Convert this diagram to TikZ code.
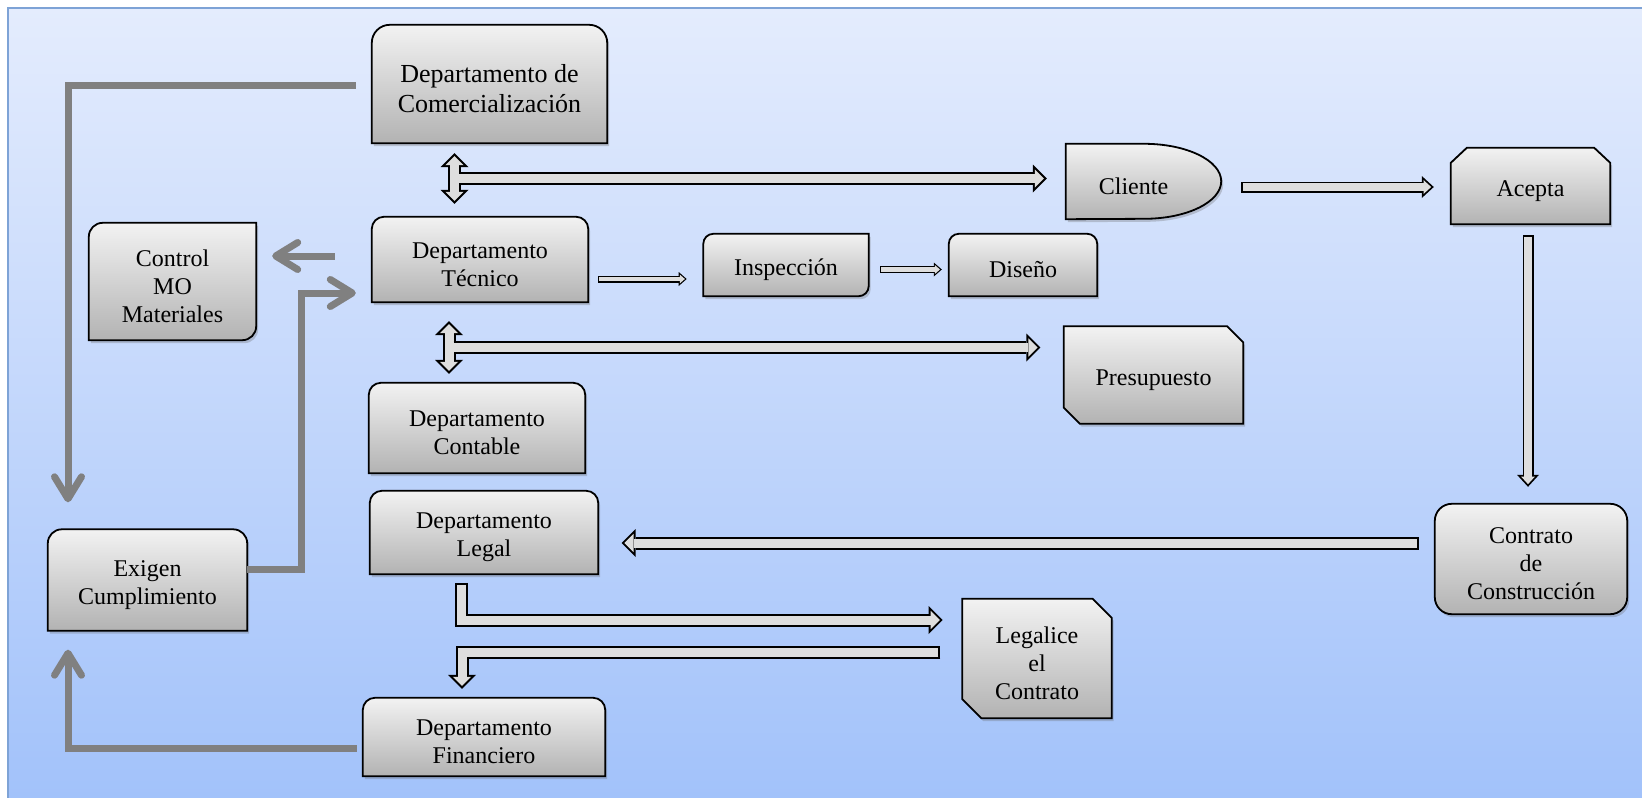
\documentclass[tikz,border=0pt]{standalone}
\usepackage{fontspec}
\setmainfont{Liberation Serif}
\usepackage{tikz}
\usetikzlibrary{arrows.meta, calc, shadows, backgrounds}

\definecolor{panetop}{RGB}{228,236,253}
\definecolor{panebot}{RGB}{162,194,250}
\definecolor{paneline}{RGB}{126,163,214}
\definecolor{flowgray}{RGB}{128,128,128}

\begin{document}
\begin{tikzpicture}[
    x=1pt, y=-1pt,
    every node/.style={font=\fontsize{24}{28}\selectfont},
    dept/.style={rectangle, inner sep=0pt, align=center},
    boxpaint/.style={draw=black, line width=1.8pt, top color=black!5, bottom color=black!30,
        drop shadow={opacity=0.3, shadow xshift=2pt, shadow yshift=-3pt, fill=black!60}},
    bigarrow/.style={draw=black, line width=13pt, -{Triangle[length=14pt, width=28pt, line width=0pt]},
        postaction={draw=black!13, line width=9pt, shorten <=2pt, shorten >=2.83pt,
        -{Triangle[length=9.2pt, width=18.4pt, line width=0pt]}}},
    branch/.style={draw=black, line width=13pt, -{Triangle[length=14pt, width=28pt, line width=0pt]},
        postaction={draw=black!13, line width=9pt, shorten >=2.83pt,
        -{Triangle[length=9.2pt, width=18.4pt, line width=0pt]}}},
    bidir/.style={draw=black, line width=13pt,
        {Triangle[length=14pt, width=28pt, line width=0pt]}-{Triangle[length=14pt, width=28pt, line width=0pt]},
        postaction={draw=black!13, line width=9pt, shorten <=2.83pt, shorten >=2.83pt,
        {Triangle[length=9.2pt, width=18.4pt, line width=0pt]}-{Triangle[length=9.2pt, width=18.4pt, line width=0pt]}}},
    midarrow/.style={draw=black, line width=11pt, -{Triangle[length=12pt, width=22pt, line width=0pt]},
        postaction={draw=black!13, line width=7.4pt, shorten <=1.8pt, shorten >=2.66pt,
        -{Triangle[length=7.5pt, width=13.7pt, line width=0pt]}}},
    thinarrow/.style={draw=black, line width=7pt, -{Triangle[length=8pt, width=14pt, line width=0pt]},
        postaction={draw=black!13, line width=4.6pt, shorten <=1.2pt, shorten >=1.82pt,
        -{Triangle[length=5pt, width=8.7pt, line width=0pt]}}},
    flow/.style={draw=flowgray, line width=7pt, -{Straight Barb[length=22pt, width=27pt, round]}}
]
\useasboundingbox (0,0) rectangle (1642,798);

% Background panel
\begin{scope}[on background layer]
    \shade[top color=panetop, bottom color=panebot] (8,8) rectangle (1642,798);
    \draw[paneline, line width=2pt] (8,798) -- (8,8) -- (1642,8);
\end{scope}

\begin{scope}[yshift=-5pt]
% Departments
\node[dept, minimum width=235pt, minimum height=118pt, font=\fontsize{26}{30}\selectfont] (com) at (489.5,84) {Departamento de\\Comercialización};
\node[dept, minimum width=216pt, minimum height=85pt] (tec) at (480,259.5) {Departamento\\Técnico};
\node[dept, minimum width=216pt, minimum height=90pt] (cont) at (477,428) {Departamento\\Contable};
\node[dept, minimum width=228pt, minimum height=83pt] (legal) at (484,532.5) {Departamento\\Legal};
\node[dept, minimum width=242pt, minimum height=78pt] (fin) at (484,737) {Departamento\\Financiero};

% Left side
\node[dept, minimum width=167pt, minimum height=117pt] (ctrl) at (172.5,281.5) {Control\\MO\\Materiales};
\node[dept, minimum width=199pt, minimum height=101pt] (exig) at (147.5,580) {Exigen\\Cumplimiento};

% Technical steps
\node[dept, minimum width=165pt, minimum height=62pt] (insp) at (786,265) {Inspección};
\node[dept, minimum width=148pt, minimum height=62pt] (dis) at (1023,265) {Diseño};

% Client side
\node[dept, minimum width=155pt, minimum height=75pt] (cli) at (1143.5,181.5) {Cliente\hspace*{20pt}};
\node[dept, minimum width=159pt, minimum height=76pt] (acep) at (1530.5,186) {Acepta};
\node[dept, minimum width=179pt, minimum height=97pt] (pres) at (1153.5,375) {Presupuesto};
\node[dept, minimum width=192pt, minimum height=110pt] (contr) at (1531,559) {Contrato\\de\\Construcción};
\node[dept, minimum width=149pt, minimum height=119pt] (legz) at (1037,658.5) {Legalice\\el\\Contrato};
\end{scope}

% Box outlines
\begin{scope}[on background layer]
\begin{scope}[transform canvas={yshift=5pt}]
    % rounded top
    \foreach \n/\r in {com/18pt, tec/12pt, cont/12pt, legal/12pt, fin/12pt, exig/14pt, dis/10pt}
        \draw[boxpaint] (\n.south west) -- ([yshift=-\r]\n.north west) arc[start angle=180, end angle=90, radius=\r]
            -- ([xshift=-\r]\n.north east) arc[start angle=90, end angle=0, radius=\r] -- (\n.south east) -- cycle;
    % rounded diagonal
    \foreach \n/\r in {ctrl/14pt, insp/10pt}
        \draw[boxpaint] (\n.south west) -- ([yshift=-\r]\n.north west) arc[start angle=180, end angle=90, radius=\r]
            -- (\n.north east) -- ([yshift=\r]\n.south east) arc[start angle=0, end angle=-90, radius=\r] -- cycle;
    % snipped diagonal
    \foreach \n/\c in {pres/16pt, legz/19pt}
        \draw[boxpaint] ([yshift=\c]\n.south west) -- (\n.north west) -- ([xshift=-\c]\n.north east)
            -- ([yshift=-\c]\n.north east) -- (\n.south east) -- ([xshift=\c]\n.south west) -- cycle;
    % snipped top
    \draw[boxpaint] (acep.south west) -- ([yshift=-15pt]acep.north west) -- ([xshift=16pt]acep.north west)
        -- ([xshift=-16pt]acep.north east) -- ([yshift=-15pt]acep.north east) -- (acep.south east) -- cycle;
    % delay
    \draw[boxpaint] (cli.south west) -- (cli.north west) -- ([xshift=-77pt]cli.north east)
        arc[start angle=90, end angle=-90, x radius=77pt, y radius=37.5pt] -- cycle;
    % rounded
    \draw[boxpaint, rounded corners=17pt] (contr.south west) rectangle (contr.north east);
\end{scope}
\end{scope}

% Junctions of the double arrows
\coordinate (j1) at (454.5,178.5);
\coordinate (j2) at (449,347.5);

% Hollow connectors
\draw[bidir] ($(j1 |- com.south)+(0,5)$) -- ($(j1 |- tec.north)+(0,-18)$);
\draw[branch] ($(j1)+(4.5,0)$) -- ($(j1 -| cli.west)+(-19,0)$);
\draw[bidir] ($(j2 |- tec.south)+(0,14)$) -- ($(j2 |- cont.north)+(0,-14)$);
\draw[branch] ($(j2)+(4.5,0)$) -- ($(j2 -| pres.west)+(-23.4,0)$);

\draw[thinarrow] ($(tec.east)+(10,14.5)$) -- ($(insp.west)+(-16.6,9)$);
\draw[thinarrow] ($(insp.east)+(11.4,-0.5)$) -- ($(dis.west)+(-7,-0.5)$);

\draw[midarrow] ($(cli.east)+(20,0.5)$) -- ($(acep.west)+(-17,-4)$);
\draw[midarrow] ($(acep.south)+(-2.5,6)$) -- ($(contr.north)+(-3,-22)$);
\draw[bigarrow] ($(contr.west)+(-16,-21)$) -- ($(legal.east)+(23.4,5.5)$);
\draw[bigarrow] ($(legal.south)+(-22.5,3.7)$) |- ($(legz.west)+(-19.6,-43.5)$);
\draw[bigarrow] ($(legz.west)+(-22,-11.5)$) -| ($(fin.north)+(-22,-14)$);

% Gray flows
\draw[flow] ($(com.west)+(-16,-4)$) -| ($(exig.north)+(-79.5,-32)$);
\draw[flow] ($(fin.west)+(-6,6)$) -| ($(exig.south)+(-79.5,14)$);
\draw[flow] ($(exig.east)+(0,-16)$) -| ($(tec.west)+(-70,28.5)$) -- ($(tec.west)+(-16,28.5)$);
\draw[flow] ($(tec.west)+(-37,-8.5)$) -- ($(ctrl.east)+(16,-30.5)$);

\end{tikzpicture}
\end{document}
